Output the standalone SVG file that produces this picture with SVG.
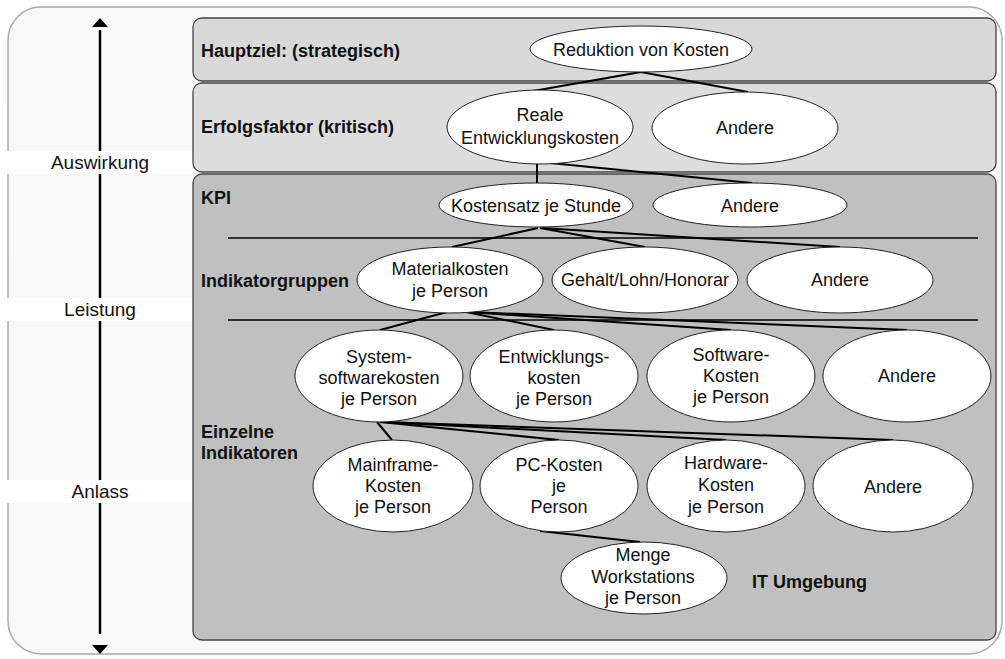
<svg xmlns="http://www.w3.org/2000/svg" width="1005" height="659" viewBox="0 0 1005 659">
<style>
text{font-family:"Liberation Sans",Arial,sans-serif;font-size:18px;fill:#111}
.b{font-weight:bold}
.c{text-anchor:middle}
.ax{font-size:19px;text-anchor:middle}
.n{fill:#fff;stroke:#222;stroke-width:1}
.p{stroke:#444;stroke-width:1.3}
.e{stroke:#000;stroke-width:2;fill:none}
.d{stroke:#000;stroke-width:1.5}
</style>
<defs>
<marker id="ah" markerWidth="10" markerHeight="10" refX="5" refY="5" orient="auto" markerUnits="userSpaceOnUse" viewBox="0 0 10 10">
<path d="M0,0 L10,5 L0,10 z" fill="#000"/>
</marker>
</defs>
<rect x="0" y="0" width="1005" height="659" fill="#fff"/>
<rect x="8" y="7" width="994" height="647" rx="33" ry="33" fill="#f8f8f8" stroke="#aaa" stroke-width="1.5"/>
<g id="axis">
<line x1="100" y1="634" x2="100" y2="30" stroke="#000" stroke-width="2.5"/>
<path d="M92,27 L100,18 L108,27 z" fill="#000"/>
<path d="M92,645 L100,654 L108,645 z" fill="#000"/>
<rect x="4" y="151" width="190" height="23" fill="#fff"/>
<rect x="4" y="298" width="190" height="23" fill="#fff"/>
<rect x="4" y="480" width="190" height="23" fill="#fff"/>
<text class="ax" x="100" y="169">Auswirkung</text>
<text class="ax" x="100" y="316">Leistung</text>
<text class="ax" x="100" y="498">Anlass</text>
</g>
<g id="panel-hauptziel">
<rect class="p" x="193" y="18" width="803" height="63" rx="9" fill="#d8d8d8"/>
<text class="b" x="201" y="57">Hauptziel: (strategisch)</text>
</g>
<g id="panel-erfolg">
<rect class="p" x="193" y="83" width="803" height="89" rx="9" fill="#dddddd"/>
<text class="b" x="201" y="133">Erfolgsfaktor (kritisch)</text>
</g>
<g id="panel-kpi">
<rect class="p" x="193" y="174" width="803" height="466" rx="9" fill="#c0c0c0"/>
<text class="b" x="201" y="204">KPI</text>
<line class="d" x1="228" y1="238" x2="978" y2="238"/>
<line class="d" x1="228" y1="320" x2="978" y2="320"/>
<text class="b" x="201" y="287">Indikatorgruppen</text>
<text class="b" x="201" y="438">Einzelne</text>
<text class="b" x="201" y="459">Indikatoren</text>
<text class="b" x="752" y="588">IT Umgebung</text>
</g>
<g id="connectors">
<line class="e" x1="641" y1="72" x2="533" y2="91"/>
<line class="e" x1="641" y1="72" x2="748" y2="92"/>
<line class="e" x1="537" y1="164" x2="537" y2="183"/>
<line class="e" x1="550" y1="163" x2="752" y2="183"/>
<line class="e" x1="538" y1="228" x2="452" y2="247"/>
<line class="e" x1="540" y1="228" x2="645" y2="247"/>
<line class="e" x1="542" y1="228" x2="840" y2="247"/>
<line class="e" x1="447" y1="312" x2="380" y2="330"/>
<line class="e" x1="466" y1="312" x2="554" y2="330"/>
<line class="e" x1="468" y1="312" x2="731" y2="330"/>
<line class="e" x1="470" y1="312" x2="907" y2="330"/>
<line class="e" x1="377" y1="422" x2="392" y2="440"/>
<line class="e" x1="380" y1="422" x2="559" y2="440"/>
<line class="e" x1="382" y1="422" x2="726" y2="440"/>
<line class="e" x1="384" y1="422" x2="893" y2="440"/>
<line class="e" x1="540" y1="531" x2="640" y2="542"/>
</g>
<g id="n-reduktion"><ellipse class="n" cx="641" cy="49" rx="111" ry="23"/><text class="c" x="641" y="56">Reduktion von Kosten</text></g>
<g id="n-reale"><ellipse class="n" cx="540" cy="127" rx="93" ry="37"/><text class="c" x="540" y="121">Reale</text><text class="c" x="540" y="144">Entwicklungskosten</text></g>
<g id="n-andere1"><ellipse class="n" cx="745" cy="128" rx="93" ry="36"/><text class="c" x="745" y="134">Andere</text></g>
<g id="n-kostensatz"><ellipse class="n" cx="536" cy="205" rx="97" ry="22"/><text class="c" x="536" y="212">Kostensatz je Stunde</text></g>
<g id="n-andere2"><ellipse class="n" cx="750" cy="205" rx="97" ry="22"/><text class="c" x="750" y="212">Andere</text></g>
<g id="n-material"><ellipse class="n" cx="450" cy="280" rx="93" ry="33"/><text class="c" x="450" y="275">Materialkosten</text><text class="c" x="450" y="297">je Person</text></g>
<g id="n-gehalt"><ellipse class="n" cx="645" cy="280" rx="93" ry="33"/><text class="c" x="645" y="286">Gehalt/Lohn/Honorar</text></g>
<g id="n-andere3"><ellipse class="n" cx="840" cy="280" rx="93" ry="33"/><text class="c" x="840" y="286">Andere</text></g>
<g id="n-system"><ellipse class="n" cx="379" cy="376" rx="84" ry="46"/><text class="c" x="379" y="363">System-</text><text class="c" x="379" y="384">softwarekosten</text><text class="c" x="379" y="405">je Person</text></g>
<g id="n-entw"><ellipse class="n" cx="554" cy="376" rx="84" ry="46"/><text class="c" x="554" y="363">Entwicklungs-</text><text class="c" x="554" y="384">kosten</text><text class="c" x="554" y="405">je Person</text></g>
<g id="n-software"><ellipse class="n" cx="731" cy="376" rx="84" ry="46"/><text class="c" x="731" y="361">Software-</text><text class="c" x="731" y="382">Kosten</text><text class="c" x="731" y="403">je Person</text></g>
<g id="n-andere4"><ellipse class="n" cx="907" cy="376" rx="84" ry="46"/><text class="c" x="907" y="382">Andere</text></g>
<g id="n-mainframe"><ellipse class="n" cx="393" cy="486" rx="80" ry="46"/><text class="c" x="393" y="471">Mainframe-</text><text class="c" x="393" y="492">Kosten</text><text class="c" x="393" y="513">je Person</text></g>
<g id="n-pc"><ellipse class="n" cx="559" cy="486" rx="79" ry="46"/><text class="c" x="559" y="471">PC-Kosten</text><text class="c" x="559" y="492">je</text><text class="c" x="559" y="513">Person</text></g>
<g id="n-hardware"><ellipse class="n" cx="726" cy="486" rx="79" ry="46"/><text class="c" x="726" y="469">Hardware-</text><text class="c" x="726" y="491">Kosten</text><text class="c" x="726" y="513">je Person</text></g>
<g id="n-andere5"><ellipse class="n" cx="893" cy="486" rx="80" ry="46"/><text class="c" x="893" y="493">Andere</text></g>
<g id="n-menge"><ellipse class="n" cx="644" cy="578" rx="83" ry="36"/><text class="c" x="643" y="561">Menge</text><text class="c" x="643" y="583">Workstations</text><text class="c" x="643" y="604">je Person</text></g>
</svg>
